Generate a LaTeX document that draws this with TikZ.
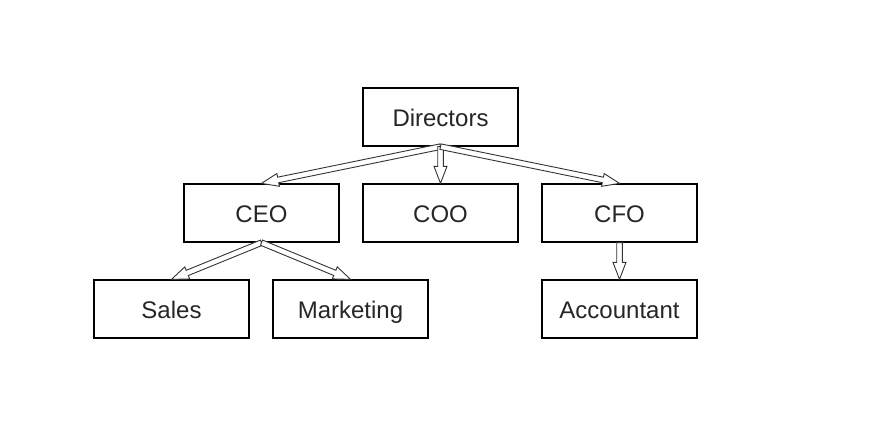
\documentclass[tikz,border=0pt]{standalone}
\usepackage{fontspec}
\setmainfont{Liberation Sans}
\usetikzlibrary{calc}
\tikzset{
  box/.style={draw=black, line width=1.3pt, minimum width=155pt, minimum height=58pt, inner sep=0pt, text height=20pt, text depth=2pt, font=\fontsize{24}{26}\selectfont, text=black!85},
  fatarrow/.style={draw=black!80, line width=0.9pt, fill=white, line join=miter}
}
\newcommand{\blockarrow}[2]{%
  \coordinate (hb) at ($(#2)!17pt!(#1)$);
  \draw[fatarrow] ($(#1)!2.8pt!90:(#2)$) -- ($(hb)!2.8pt!-90:(#1)$) -- ($(hb)!6.5pt!-90:(#1)$) -- (#2) -- ($(hb)!6.5pt!90:(#1)$) -- ($(hb)!2.8pt!90:(#1)$) -- ($(#1)!2.8pt!-90:(#2)$) -- cycle;
}
\begin{document}
\begin{tikzpicture}[x=1pt,y=-1pt]
\useasboundingbox (0,0) rectangle (880,440);
\fill[white] (0,0) rectangle (880,440);
\node[box] (dir) at (440.5,117) {Directors};
\node[box] (ceo) at (261.5,213) {CEO};
\node[box] (coo) at (440.5,213) {COO};
\node[box] (cfo) at (619.5,213) {CFO};
\node[box] (sales) at (171.5,309) {Sales};
\node[box] (mkt) at (350.5,309) {Marketing};
\node[box] (acc) at (619.5,309) {Accountant};
\blockarrow{dir.south}{ceo.north}
\blockarrow{dir.south}{coo.north}
\blockarrow{dir.south}{cfo.north}
\blockarrow{ceo.south}{sales.north}
\blockarrow{ceo.south}{mkt.north}
\blockarrow{cfo.south}{acc.north}
\end{tikzpicture}
\end{document}
